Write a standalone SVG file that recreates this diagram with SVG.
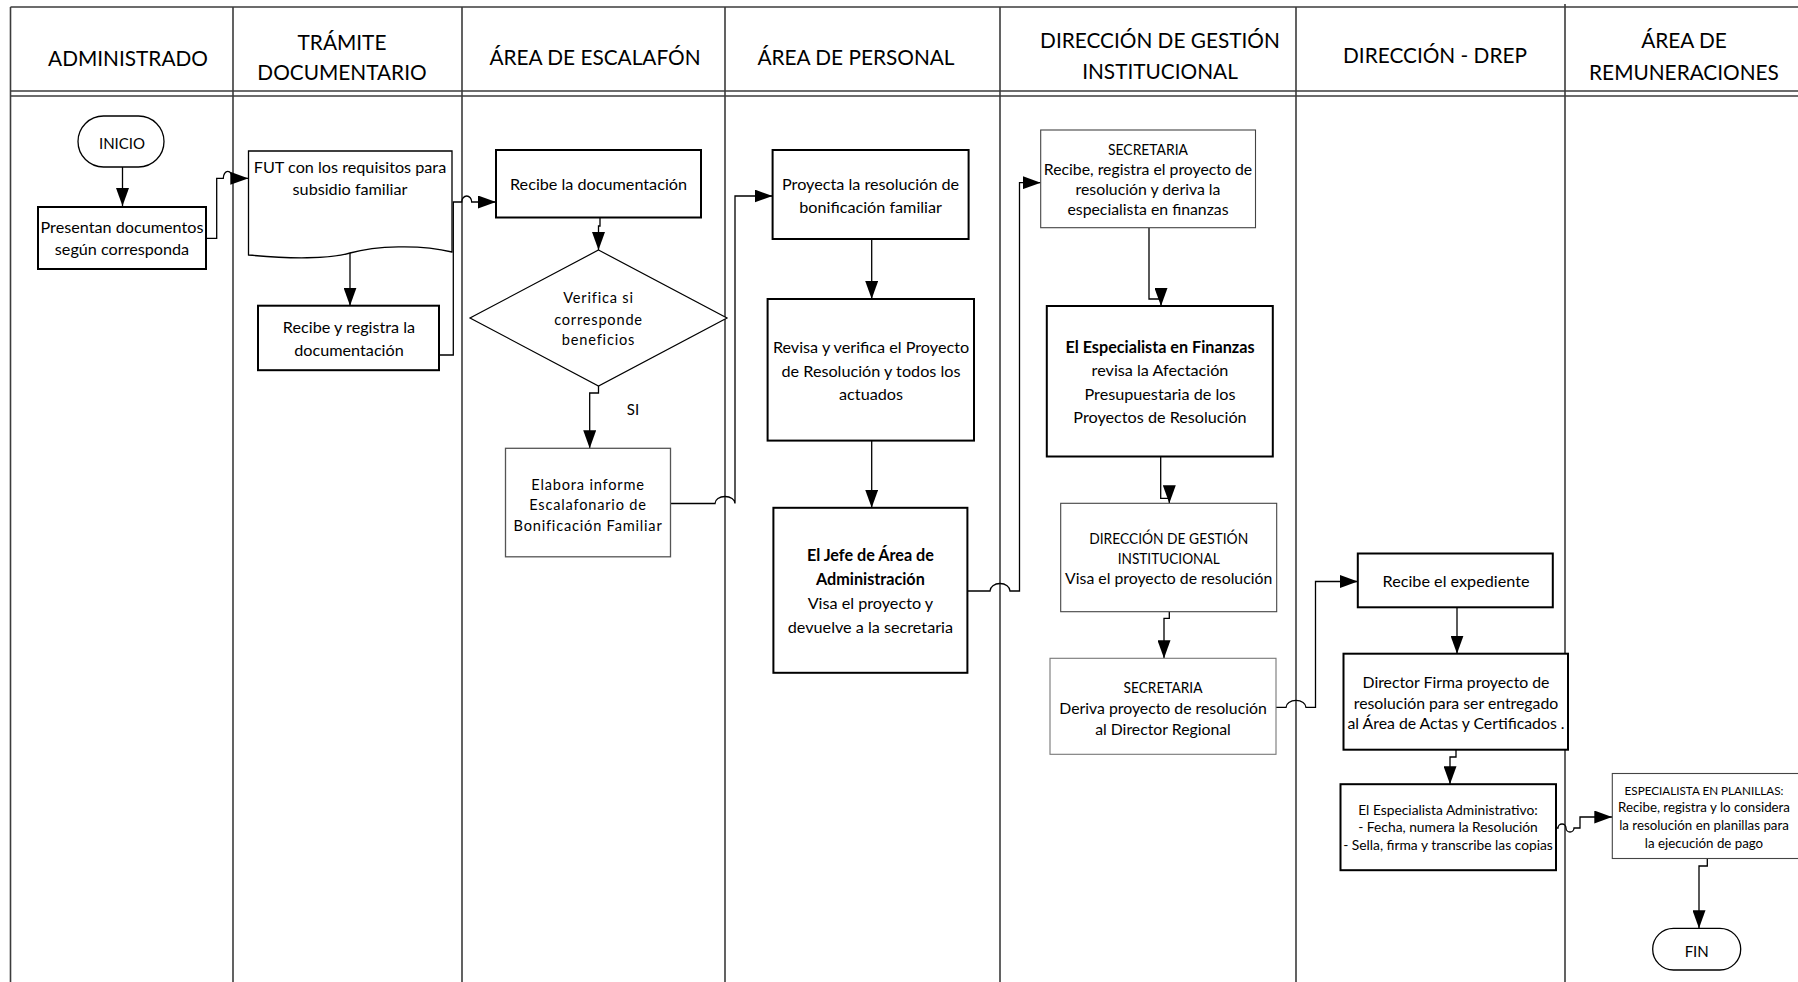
<svg xmlns="http://www.w3.org/2000/svg" width="1798" height="982" viewBox="0 0 1798 982">
  <defs>
    <marker id="arr" markerUnits="userSpaceOnUse" markerWidth="18" markerHeight="13" refX="18" refY="6.5" orient="auto">
      <path d="M0,0 L18,6.5 L0,13 Z" fill="#000"/>
    </marker>
    <style>
      .frame { stroke: #3c3c3c; stroke-width: 1.6; fill: none; }
      .hd { font-family: Lato, "Liberation Sans", sans-serif; font-size: 20.8px; text-anchor: middle; fill: #000; }
      .box { fill: #fff; stroke: #000; stroke-width: 2; }
      .thin { fill: #fff; stroke: #444; stroke-width: 1.1; }
      .t { font-family: Lato, "Liberation Sans", sans-serif; text-anchor: middle; fill: #000; }
      .b { font-weight: bold; }
      .s16 { font-size: 16.2px; }
      .s15 { font-size: 15px; }
      .s14 { font-size: 15.8px; }
      .s13 { font-size: 13.8px; }
      .s12 { font-size: 13.3px; }
      .s11 { font-size: 11.7px; }
      .sp { font-size: 14.6px; letter-spacing: 0.8px; }
      .c { fill: none; stroke: #000; stroke-width: 1.3; }
      .ca { fill: none; stroke: #000; stroke-width: 1.3; marker-end: url(#arr); }
    </style>
  </defs>
  <rect x="0" y="0" width="1798" height="982" fill="#fff"/>

  <!-- swimlane frame -->
  <g id="lanes">
    <path class="frame" d="M10.5,7 H1798 M10.5,91 H1798 M10.5,96 H1798"/>
    <path class="frame" d="M10.5,7 V982" stroke-width="2.2" stroke="#000"/>
    <path class="frame" d="M233,7 V982 M462,7 V982 M725,7 V982 M1000,7 V982 M1296,7 V982 M1565,4 V982"/>
    <text class="hd" x="128" y="66">ADMINISTRADO</text>
    <text class="hd" x="342" y="50">TRÁMITE</text>
    <text class="hd" x="342" y="80">DOCUMENTARIO</text>
    <text class="hd" x="595" y="65">ÁREA DE ESCALAFÓN</text>
    <text class="hd" x="856" y="65">ÁREA DE PERSONAL</text>
    <text class="hd" x="1160" y="48">DIRECCIÓN DE GESTIÓN</text>
    <text class="hd" x="1160" y="79">INSTITUCIONAL</text>
    <text class="hd" x="1435" y="63">DIRECCIÓN - DREP</text>
    <text class="hd" x="1684" y="48">ÁREA DE</text>
    <text class="hd" x="1684" y="80">REMUNERACIONES</text>
  </g>

  <!-- connectors -->
  <g id="connectors">
    <path class="ca" d="M122.5,167 V206"/>
    <path class="ca" d="M206,238.3 H216.7 V178.3 H223.3 A4.5,7 0 0 1 232.3,178.3 H248.3"/>
    <path class="ca" d="M350,253 V305.7"/>
    <path class="ca" d="M439.3,355 H453.3 V202 H461.7 A5,6 0 0 1 471.7,202 H496"/>
    <path class="ca" d="M600,218 V226 H598.5 V250"/>
    <path class="ca" d="M598.5,386 V393 H589.7 V448.3"/>
    <path class="ca" d="M671,503.5 H715 A10,7 0 0 1 735,503.5 V196 H772.6"/>
    <path class="ca" d="M871.7,239 V299"/>
    <path class="ca" d="M871.7,440.6 V507.8"/>
    <path class="ca" d="M967.4,591 H990 A10,7.5 0 0 1 1010,591 H1019.5 V182.7 H1040.7"/>
    <path class="ca" d="M1149,227.7 V299 H1161 V306"/>
    <path class="ca" d="M1160.7,456.5 V498.3 H1169.3 V503.3"/>
    <path class="ca" d="M1169.3,611.7 V618.3 H1164 V658.3"/>
    <path class="ca" d="M1276,707.4 H1286 A10,7 0 0 1 1306,707.4 H1315.5 V581.5 H1357.8"/>
    <path class="ca" d="M1457,607.3 V653.7"/>
    <path class="ca" d="M1456,749.7 V757 H1450 V784.2"/>
    <path class="ca" d="M1556,828 H1558 A4,4 0 0 1 1566,828 A4,4 0 0 0 1574,828 H1580 V817 H1612.3"/>
    <path class="ca" d="M1707.3,858.5 V866 H1699 V928.3"/>
    <text class="t s15" x="633" y="414.5">SI</text>
  </g>

  <g id="inicio">
    <rect x="78" y="116" width="86" height="51" rx="25.5" fill="#fff" stroke="#000" stroke-width="1.3"/>
    <text class="t s15" x="122" y="149">INICIO</text>
  </g>

  <g id="presentan">
    <rect class="box" x="38" y="207" width="168" height="62"/>
    <text class="t s16" x="122" y="233">Presentan documentos</text>
    <text class="t s16" x="122" y="255">según corresponda</text>
  </g>

  <g id="fut">
    <path d="M248.5,151 H452 V252 C420,244 375,246 350,253 C330,259 290,259 248.5,255 Z" fill="#fff" stroke="#000" stroke-width="1.3"/>
    <text class="t s16" x="350" y="173">FUT con los requisitos para</text>
    <text class="t s16" x="350" y="195">subsidio familiar</text>
  </g>

  <g id="recibe-registra">
    <rect class="box" x="258" y="305.7" width="181" height="64.5"/>
    <text class="t s16" x="349" y="333">Recibe y registra la</text>
    <text class="t s16" x="349" y="356">documentación</text>
  </g>

  <g id="recibe-doc">
    <rect class="box" x="496" y="150" width="205" height="67.5"/>
    <text class="t s16" x="598.5" y="190">Recibe la documentación</text>
  </g>

  <g id="verifica">
    <polygon points="598.5,250 727,318 598.5,386 470,318" fill="#fff" stroke="#000" stroke-width="1.2"/>
    <text class="t sp" x="598.5" y="303">Verifica si</text>
    <text class="t sp" x="598.5" y="325">corresponde</text>
    <text class="t sp" x="598.5" y="345">beneficios</text>
  </g>

  <g id="elabora">
    <rect x="505.5" y="448.3" width="165" height="108.5" fill="#fff" stroke="#555" stroke-width="1.3"/>
    <text class="t sp" x="588" y="489.5">Elabora informe</text>
    <text class="t sp" x="588" y="510">Escalafonario de</text>
    <text class="t sp" x="588" y="530.5">Bonificación Familiar</text>
  </g>

  <g id="proyecta">
    <rect class="box" x="772.6" y="150" width="196" height="89"/>
    <text class="t s16" x="870.6" y="190">Proyecta la resolución de</text>
    <text class="t s16" x="870.6" y="213">bonificación familiar</text>
  </g>

  <g id="revisa">
    <rect class="box" x="767.6" y="299" width="206.4" height="141.6"/>
    <text class="t s16" x="871" y="353">Revisa y verifica el Proyecto</text>
    <text class="t s16" x="871" y="377">de Resolución y todos los</text>
    <text class="t s16" x="871" y="400">actuados</text>
  </g>

  <g id="jefe">
    <rect class="box" x="773.4" y="507.8" width="194" height="165"/>
    <text class="t s16 b" x="870.4" y="561">El Jefe de Área de</text>
    <text class="t s16 b" x="870.4" y="585">Administración</text>
    <text class="t s16" x="870.4" y="609">Visa el proyecto y</text>
    <text class="t s16" x="870.4" y="633">devuelve a la secretaria</text>
  </g>

  <g id="secretaria-recibe">
    <rect class="thin" x="1040.7" y="130" width="214.8" height="97.7"/>
    <text class="t s14" x="1148" y="155" textLength="80" lengthAdjust="spacingAndGlyphs">SECRETARIA</text>
    <text class="t s14" x="1148" y="175">Recibe, registra el proyecto de</text>
    <text class="t s14" x="1148" y="195">resolución y deriva la</text>
    <text class="t s14" x="1148" y="215">especialista en finanzas</text>
  </g>

  <g id="especialista-finanzas">
    <rect class="box" x="1046.8" y="306" width="226" height="150.5"/>
    <text class="t s16 b" x="1160" y="353">El Especialista en Finanzas</text>
    <text class="t s16" x="1160" y="376">revisa la Afectación</text>
    <text class="t s16" x="1160" y="400">Presupuestaria de los</text>
    <text class="t s16" x="1160" y="423">Proyectos de Resolución</text>
  </g>

  <g id="dgi-visa">
    <rect class="thin" x="1060.7" y="503.3" width="216" height="108.4"/>
    <text class="t s14" x="1168.7" y="544" textLength="159" lengthAdjust="spacingAndGlyphs">DIRECCIÓN DE GESTIÓN</text>
    <text class="t s14" x="1168.7" y="564" textLength="102" lengthAdjust="spacingAndGlyphs">INSTITUCIONAL</text>
    <text class="t s14" x="1168.7" y="584">Visa el proyecto de resolución</text>
  </g>

  <g id="secretaria-deriva">
    <rect x="1050" y="658.3" width="226" height="96" fill="#fff" stroke="#777" stroke-width="1.1"/>
    <text class="t s14" x="1163" y="693" textLength="79" lengthAdjust="spacingAndGlyphs">SECRETARIA</text>
    <text class="t s14" x="1163" y="714">Deriva proyecto de resolución</text>
    <text class="t s14" x="1163" y="735">al Director Regional</text>
  </g>

  <g id="recibe-expediente">
    <rect class="box" x="1357.8" y="553.5" width="195" height="53.8"/>
    <text class="t s16" x="1456" y="587">Recibe el expediente</text>
  </g>

  <g id="director-firma">
    <rect class="box" x="1343.5" y="653.7" width="224.5" height="96"/>
    <text class="t s14" x="1456" y="688">Director Firma proyecto de</text>
    <text class="t s14" x="1456" y="709">resolución para ser entregado</text>
    <text class="t s14" x="1456" y="729">al Área de Actas y Certificados .</text>
  </g>

  <g id="especialista-admin">
    <rect class="box" x="1340.5" y="784.2" width="215.5" height="86"/>
    <text class="t s13" x="1448" y="814.5">El Especialista Administrativo:</text>
    <text class="t s13" x="1448" y="832">- Fecha, numera la Resolución</text>
    <text class="t s13" x="1448" y="850">- Sella, firma y transcribe las copias</text>
  </g>

  <g id="especialista-planillas">
    <rect class="thin" x="1612.3" y="773.5" width="190" height="85"/>
    <text class="t s11" x="1704" y="794.6">ESPECIALISTA EN PLANILLAS:</text>
    <text class="t s12" x="1704" y="812">Recibe, registra y lo considera</text>
    <text class="t s12" x="1704" y="830">la resolución en planillas para</text>
    <text class="t s12" x="1704" y="848">la ejecución de  pago</text>
  </g>

  <g id="fin">
    <rect x="1652.7" y="928.3" width="88" height="41.7" rx="20.8" fill="#fff" stroke="#000" stroke-width="1.3"/>
    <text class="t s15" x="1696.7" y="956.7">FIN</text>
  </g>
</svg>
